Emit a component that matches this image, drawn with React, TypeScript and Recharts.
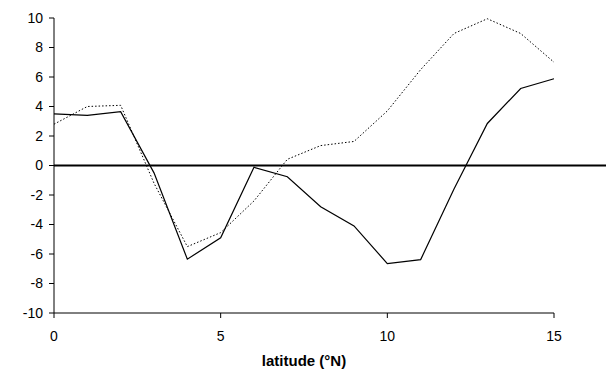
import React from 'react';
import { Line, LineChart, ReferenceLine, XAxis, YAxis } from 'recharts';

const W = 606;
const H = 372;

const latitudes = [0, 1, 2, 3, 4, 5, 6, 7, 8, 9, 10, 11, 12, 13, 14, 15];
const solidValues = [3.5, 3.4, 3.65, -0.5, -6.35, -4.9, -0.12, -0.76, -2.8, -4.1, -6.65, -6.38, -1.6, 2.85, 5.22, 5.88];
const dottedValues = [2.8, 4.0, 4.08, -1.2, -5.5, -4.55, -2.4, 0.42, 1.35, 1.63, 3.7, 6.5, 8.95, 9.95, 8.95, 7.0];
const xTicks = [0, 5, 10, 15];
const yTicks = [-10, -8, -6, -4, -2, 0, 2, 4, 6, 8, 10];

const data = latitudes.map((lat, i) => ({ lat, solid: solidValues[i], dotted: dottedValues[i] }));

const FONT = '"Liberation Sans", Arial, sans-serif';

// zero line runs past the plot to the right edge of the figure
function ZeroLine(props: any) {
  const { x1, y1 } = props;
  return <line x1={x1} y1={y1} x2={W} y2={y1} stroke="#000" strokeWidth={2} />;
}

export default function App() {
  return (
    <div style={{ position: 'absolute', left: 0, top: 0, width: W, height: H, background: '#fff' }}>
      <LineChart width={W} height={H} data={data} margin={{ top: 18, right: 52, bottom: 0, left: 0 }}>
        <XAxis
          dataKey="lat"
          type="number"
          domain={[0, 15]}
          ticks={xTicks}
          height={59}
          stroke="#000"
          tickSize={5}
          tickMargin={13}
          tick={{ fill: '#000', fontSize: 14, fontFamily: FONT }}
          label={{
            value: 'latitude (°N)',
            position: 'insideBottom',
            offset: 6,
            style: { fill: '#000', fontSize: 15, fontWeight: 'bold', fontFamily: FONT },
          }}
        />
        <YAxis
          type="number"
          domain={[-10, 10]}
          ticks={yTicks}
          width={54}
          stroke="#000"
          tickSize={5}
          tickMargin={6}
          interval={0}
          tick={{ fill: '#000', fontSize: 14, fontFamily: FONT }}
        />
        <ReferenceLine y={0} ifOverflow="visible" shape={ZeroLine} />
        <Line
          type="linear"
          dataKey="dotted"
          stroke="#000"
          strokeWidth={1}
          strokeDasharray="1.5 2"
          dot={false}
          isAnimationActive={false}
        />
        <Line type="linear" dataKey="solid" stroke="#000" strokeWidth={1.2} dot={false} isAnimationActive={false} />
      </LineChart>
    </div>
  );
}
